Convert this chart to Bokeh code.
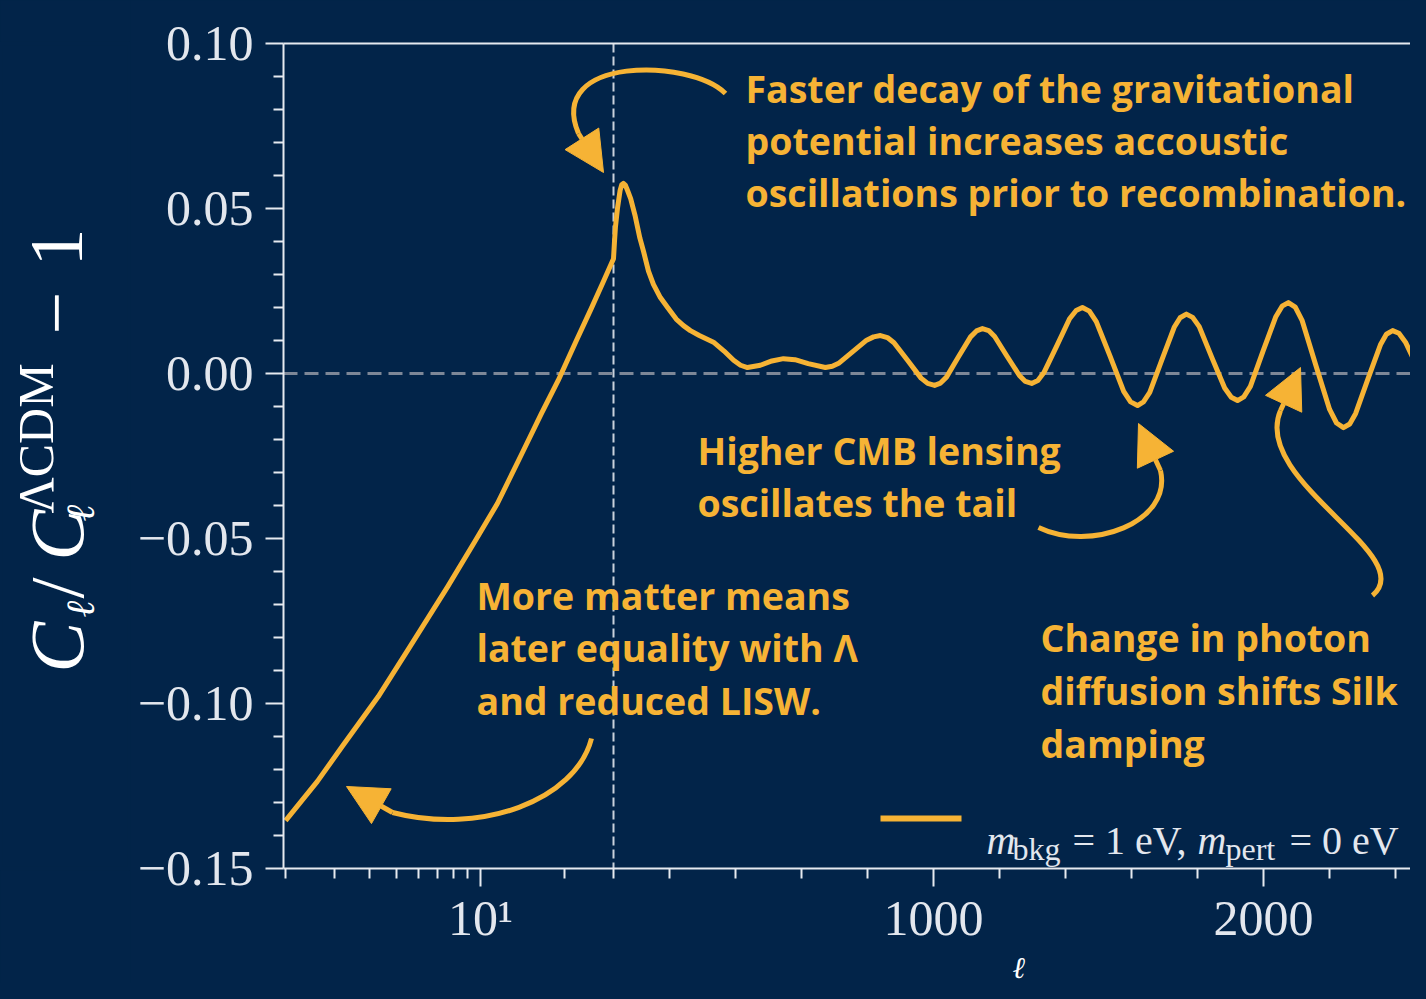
import numpy as np
from bokeh.plotting import figure
from bokeh.layouts import row
from bokeh.models import (Range1d, FixedTicker, LinearAxis, Span, Label, Arrow,
                          NormalHead, CustomJSTickFormatter, Title)
from bokeh.embed import file_html
from bokeh.resources import INLINE

ORANGE = "#f6b335"
BG = "#022449"
AXIS = "#e6eaf0"
TICKTXT = "#e3e7ee"

# ---------------- data ----------------
# log part of the l axis (2 <= l < 30)
ell_low = [2.0, 2.6, 3.2, 4.3, 5.5, 7.6, 9.5, 11.5, 14.0, 16.5, 19.0, 22.0, 25.0, 27.5]
dcl_low = [-0.1355, -0.1236, -0.1129, -0.0979, -0.0837, -0.0648, -0.0512, -0.0394,
           -0.0247, -0.0123, -0.0021, 0.0097, 0.0198, 0.0276]
# linear part of the l axis (l >= 30)
ell_high = [30, 33, 36, 42, 50, 55, 60, 66, 72, 82, 95, 110, 121, 136, 151, 172, 194,
            220, 242, 263, 290, 333, 365, 394, 415, 436, 475, 510, 545, 580, 620, 672,
            693, 714, 756, 797, 818, 839, 860, 880, 921, 962, 982, 1003, 1021, 1039,
            1075, 1112, 1130, 1148, 1167, 1185, 1222, 1260, 1278, 1297, 1316, 1335,
            1374, 1412, 1432, 1451, 1472, 1493, 1535, 1576, 1597, 1618, 1636, 1655,
            1692, 1729, 1747, 1766, 1785, 1805, 1843, 1882, 1902, 1921, 1940, 1960,
            1998, 2037, 2056, 2075, 2096, 2117, 2158, 2200, 2221, 2242, 2261, 2279,
            2316, 2354, 2372, 2391, 2410, 2430, 2470, 2500]
dcl_high = [0.0348, 0.040, 0.0445, 0.050, 0.0555, 0.0572, 0.0576, 0.0571, 0.0556,
            0.0530, 0.048, 0.041, 0.037, 0.031, 0.027, 0.023, 0.020, 0.0165, 0.0145,
            0.013, 0.0115, 0.0095, 0.0068, 0.004, 0.0025, 0.0018, 0.0025, 0.0038,
            0.0045, 0.0042, 0.003, 0.0018, 0.0022, 0.0032, 0.0067, 0.0101, 0.0111,
            0.0115, 0.0109, 0.0093, 0.0040, -0.0014, -0.0030, -0.0036, -0.0029,
            -0.0011, 0.0050, 0.0111, 0.0129, 0.0136, 0.0130, 0.0112, 0.0053, -0.0006,
            -0.0024, -0.0030, -0.0021, 0.0004, 0.0085, 0.0166, 0.0191, 0.0200, 0.0189,
            0.0157, 0.0052, -0.0054, -0.0086, -0.0097, -0.0086, -0.0057, 0.0042,
            0.0140, 0.0169, 0.0180, 0.0170, 0.0142, 0.0049, -0.0044, -0.0072, -0.0082,
            -0.0071, -0.0039, 0.0067, 0.0172, 0.0204, 0.0215, 0.0201, 0.0160, 0.0026,
            -0.0109, -0.0150, -0.0164, -0.0153, -0.0121, -0.0017, 0.0087, 0.0119,
            0.0130, 0.0122, 0.0095, 0.0010, -0.0070]

split_ell = 30
x_major_ell = [10, 1000, 2000]
x_major_labels = ["10¹", "1000", "2000"]
x_minor_ell = [2, 3, 4, 5, 6, 7, 8, 9, 20, 30, 200, 400, 600, 800, 1200, 1400, 1600,
               1800, 2200, 2400]
y_major = [-0.15, -0.10, -0.05, 0.00, 0.05, 0.10]
y_minor = [-0.14, -0.13, -0.12, -0.11, -0.09, -0.08, -0.07, -0.06, -0.04, -0.03, -0.02,
           -0.01, 0.01, 0.02, 0.03, 0.04, 0.06, 0.07, 0.08, 0.09]

x_label = "ℓ"
legend_parts = ["m", "bkg", "= 1 eV,", "m", "pert", "= 0 eV"]

# ------------- mixed axis: log below l=30, linear above -------------
PX_PER_DECADE = 278.8
PX_PER_UNIT = 0.33
K = PX_PER_DECADE / PX_PER_UNIT


def u_of(l):
    l = float(l)
    return l if l >= split_ell else split_ell - K * np.log10(split_ell / l)


W, H = 1410, 983
YW = 130                       # strip on the left that holds the y-axis title
FL, FR, FT, FB = 283, 1410, 43, 868   # frame edges in picture pixels
X0 = -970.0
X1 = X0 + (FR - FL) / PX_PER_UNIT
Y0, Y1 = -0.15, 0.10


def dx(sx):  # picture pixel -> data x
    return X0 + (sx - FL) * (X1 - X0) / (FR - FL)


def dy(sy):  # picture pixel -> data y
    return Y1 - (sy - FT) * (Y1 - Y0) / (FB - FT)


p = figure(width=W - YW, height=H, x_range=Range1d(X0, X1), y_range=Range1d(Y0, Y1),
           output_backend="svg", toolbar_location=None,
           background_fill_color=BG, border_fill_color=BG,
           min_border_left=FL - YW, min_border_right=0, min_border_top=FT,
           min_border_bottom=H - FB, outline_line_color=None)
p.xgrid.visible = False
p.ygrid.visible = False

x_major_u = [round(u_of(v), 1) for v in x_major_ell]
x_minor_u = [round(u_of(v), 1) for v in x_minor_ell]
p.xaxis.ticker = FixedTicker(ticks=x_major_u, minor_ticks=x_minor_u)
p.xaxis.formatter = CustomJSTickFormatter(args=dict(pos=x_major_u, labs=x_major_labels), code="""
let best = 0, bd = Infinity;
for (let i = 0; i < pos.length; i++) { const d = Math.abs(pos[i] - tick); if (d < bd) { bd = d; best = i; } }
return labs[best];
""")
p.yaxis.ticker = FixedTicker(ticks=y_major, minor_ticks=y_minor)
p.yaxis.formatter = CustomJSTickFormatter(code="""
return (tick < -1e-9 ? "\u2212" : "") + Math.abs(tick).toFixed(2);
""")

for ax in (p.xaxis[0], p.yaxis[0]):
    ax.axis_line_color = AXIS
    ax.axis_line_width = 2
    ax.major_tick_line_color = AXIS
    ax.major_tick_line_width = 2
    ax.minor_tick_line_color = AXIS
    ax.minor_tick_line_width = 2
    ax.major_tick_in = 0
    ax.major_tick_out = 18
    ax.minor_tick_in = 0
    ax.minor_tick_out = 10
    ax.major_label_text_font = "Liberation Serif"
    ax.major_label_text_font_size = "50px"
    ax.major_label_text_color = TICKTXT
p.xaxis.major_label_standoff = 3
p.yaxis.major_label_standoff = 12

top = LinearAxis(ticker=FixedTicker(ticks=[]), axis_line_color=AXIS, axis_line_width=2,
                 major_tick_line_color=None, minor_tick_line_color=None,
                 major_label_text_color=None)
p.add_layout(top, "above")

# x-axis title (placed under the tick labels, at the same spot as in the reference)
p.add_layout(Title(text=x_label, align="left", offset=1012 - FL, standoff=0,
                   text_font="Liberation Serif", text_font_style="italic",
                   text_font_size="30px", text_color="white"), "below")

# reference lines
p.add_layout(Span(location=u_of(split_ell), dimension="height", line_color="#c9d1dc",
                  line_width=2, line_dash="9 4", level="underlay"))
p.add_layout(Span(location=0, dimension="width", line_color="#7d8797",
                  line_width=3, line_dash="14 7", level="underlay"))

# the curve
ell = ell_low + ell_high
dcl = dcl_low + dcl_high
p.line([u_of(v) for v in ell], dcl, line_color=ORANGE, line_width=5, line_join="round")


def lab(fig, text, x, y, size, font="Liberation Serif", style="normal", color=TICKTXT,
        align="left", baseline="alphabetic", angle=0.0):
    fig.add_layout(Label(x=x, y=y, text=text, text_font=font,
                         text_font_size=f"{size}px", text_font_style=style,
                         text_color=color, text_align=align, text_baseline=baseline,
                         angle=angle))


# legend
p.line([dx(880), dx(961)], [dy(818), dy(818)], line_color=ORANGE, line_width=6)
lab(p, legend_parts[0], dx(986), dy(840), 40, style="italic")
lab(p, legend_parts[1], dx(1012), dy(848), 32)
lab(p, legend_parts[2], dx(1072), dy(840), 40)
lab(p, legend_parts[3], dx(1197), dy(840), 40, style="italic")
lab(p, legend_parts[4], dx(1225), dy(848), 32)
lab(p, legend_parts[5], dx(1289), dy(840), 40)

# annotations
notes = [
    (745, [88, 140, 192], ["Faster decay of the gravitational",
                           "potential increases accoustic",
                           "oscillations prior to recombination."]),
    (697, [450, 502], ["Higher CMB lensing", "oscillates the tail"]),
    (476, [595, 647, 700], ["More matter means", "later equality with Λ",
                            "and reduced LISW."]),
    (1040, [637, 690, 743], ["Change in photon", "diffusion shifts Silk", "damping"]),
]
for sx, sys, lines in notes:
    for sy, t in zip(sys, lines):
        lab(p, t, dx(sx), dy(sy), 37.5, font="Open Sans", style="bold", color=ORANGE,
            baseline="middle")

# curved arrows
curves = [
    ((725, 93), (690, 58), (545, 55), (578, 133), (603, 172)),
    ((1038, 527), (1090, 552), (1172, 522), (1160, 470), (1138, 423)),
    ((1372, 595), (1420, 555), (1250, 480), (1280, 410), (1300, 367)),
    ((591, 738), (575, 800), (480, 835), (392, 812), (346, 786)),
]
for a, c0, c1, b, tip in curves:
    p.bezier(x0=[dx(a[0])], y0=[dy(a[1])], x1=[dx(b[0])], y1=[dy(b[1])],
             cx0=[dx(c0[0])], cy0=[dy(c0[1])], cx1=[dx(c1[0])], cy1=[dy(c1[1])],
             line_color=ORANGE, line_width=5)
    p.add_layout(Arrow(end=NormalHead(size=40, fill_color=ORANGE, line_color=ORANGE),
                       x_start=dx(b[0]), y_start=dy(b[1]), x_end=dx(tip[0]),
                       y_end=dy(tip[1]), line_color=ORANGE, line_width=5))

# ---- left strip: rotated y-axis title  C_l / C_l^LCDM - 1 ----
# its frame has the same top/bottom as the main frame; data units = picture pixels
yt = figure(width=YW, height=H, x_range=Range1d(0, YW), y_range=Range1d(FB, FT),
            output_backend="svg", toolbar_location=None, x_axis_type=None,
            y_axis_type=None, background_fill_color=BG, border_fill_color=BG,
            min_border_left=0, min_border_right=0, min_border_top=FT,
            min_border_bottom=H - FB, outline_line_color=BG, outline_line_width=4)
yt.xgrid.visible = False
yt.ygrid.visible = False
R = np.pi / 2
lab(yt, "C", 56, 672, 76, style="italic", color="white", angle=R)
lab(yt, "ℓ", 80, 617, 40, style="italic", color="white", angle=R)
lab(yt, "/", 56, 598, 76, color="white", angle=R)
lab(yt, "C", 56, 560, 76, style="italic", color="white", angle=R)
lab(yt, "ℓ", 80, 521, 40, style="italic", color="white", angle=R)
lab(yt, "ΛCDM", 35, 513, 50, color="white", angle=R)
lab(yt, "−", 56, 334, 76, color="white", angle=R)
lab(yt, "1", 56, 266, 76, color="white", angle=R)

layout = row(yt, p, spacing=0)
html = file_html(layout, INLINE)
# give the page the same navy background so no light seams show between the canvases
html = html.replace("</head>", "<style>html, body { background: #022449; }</style></head>", 1)
open("out.html", "w").write(html)
